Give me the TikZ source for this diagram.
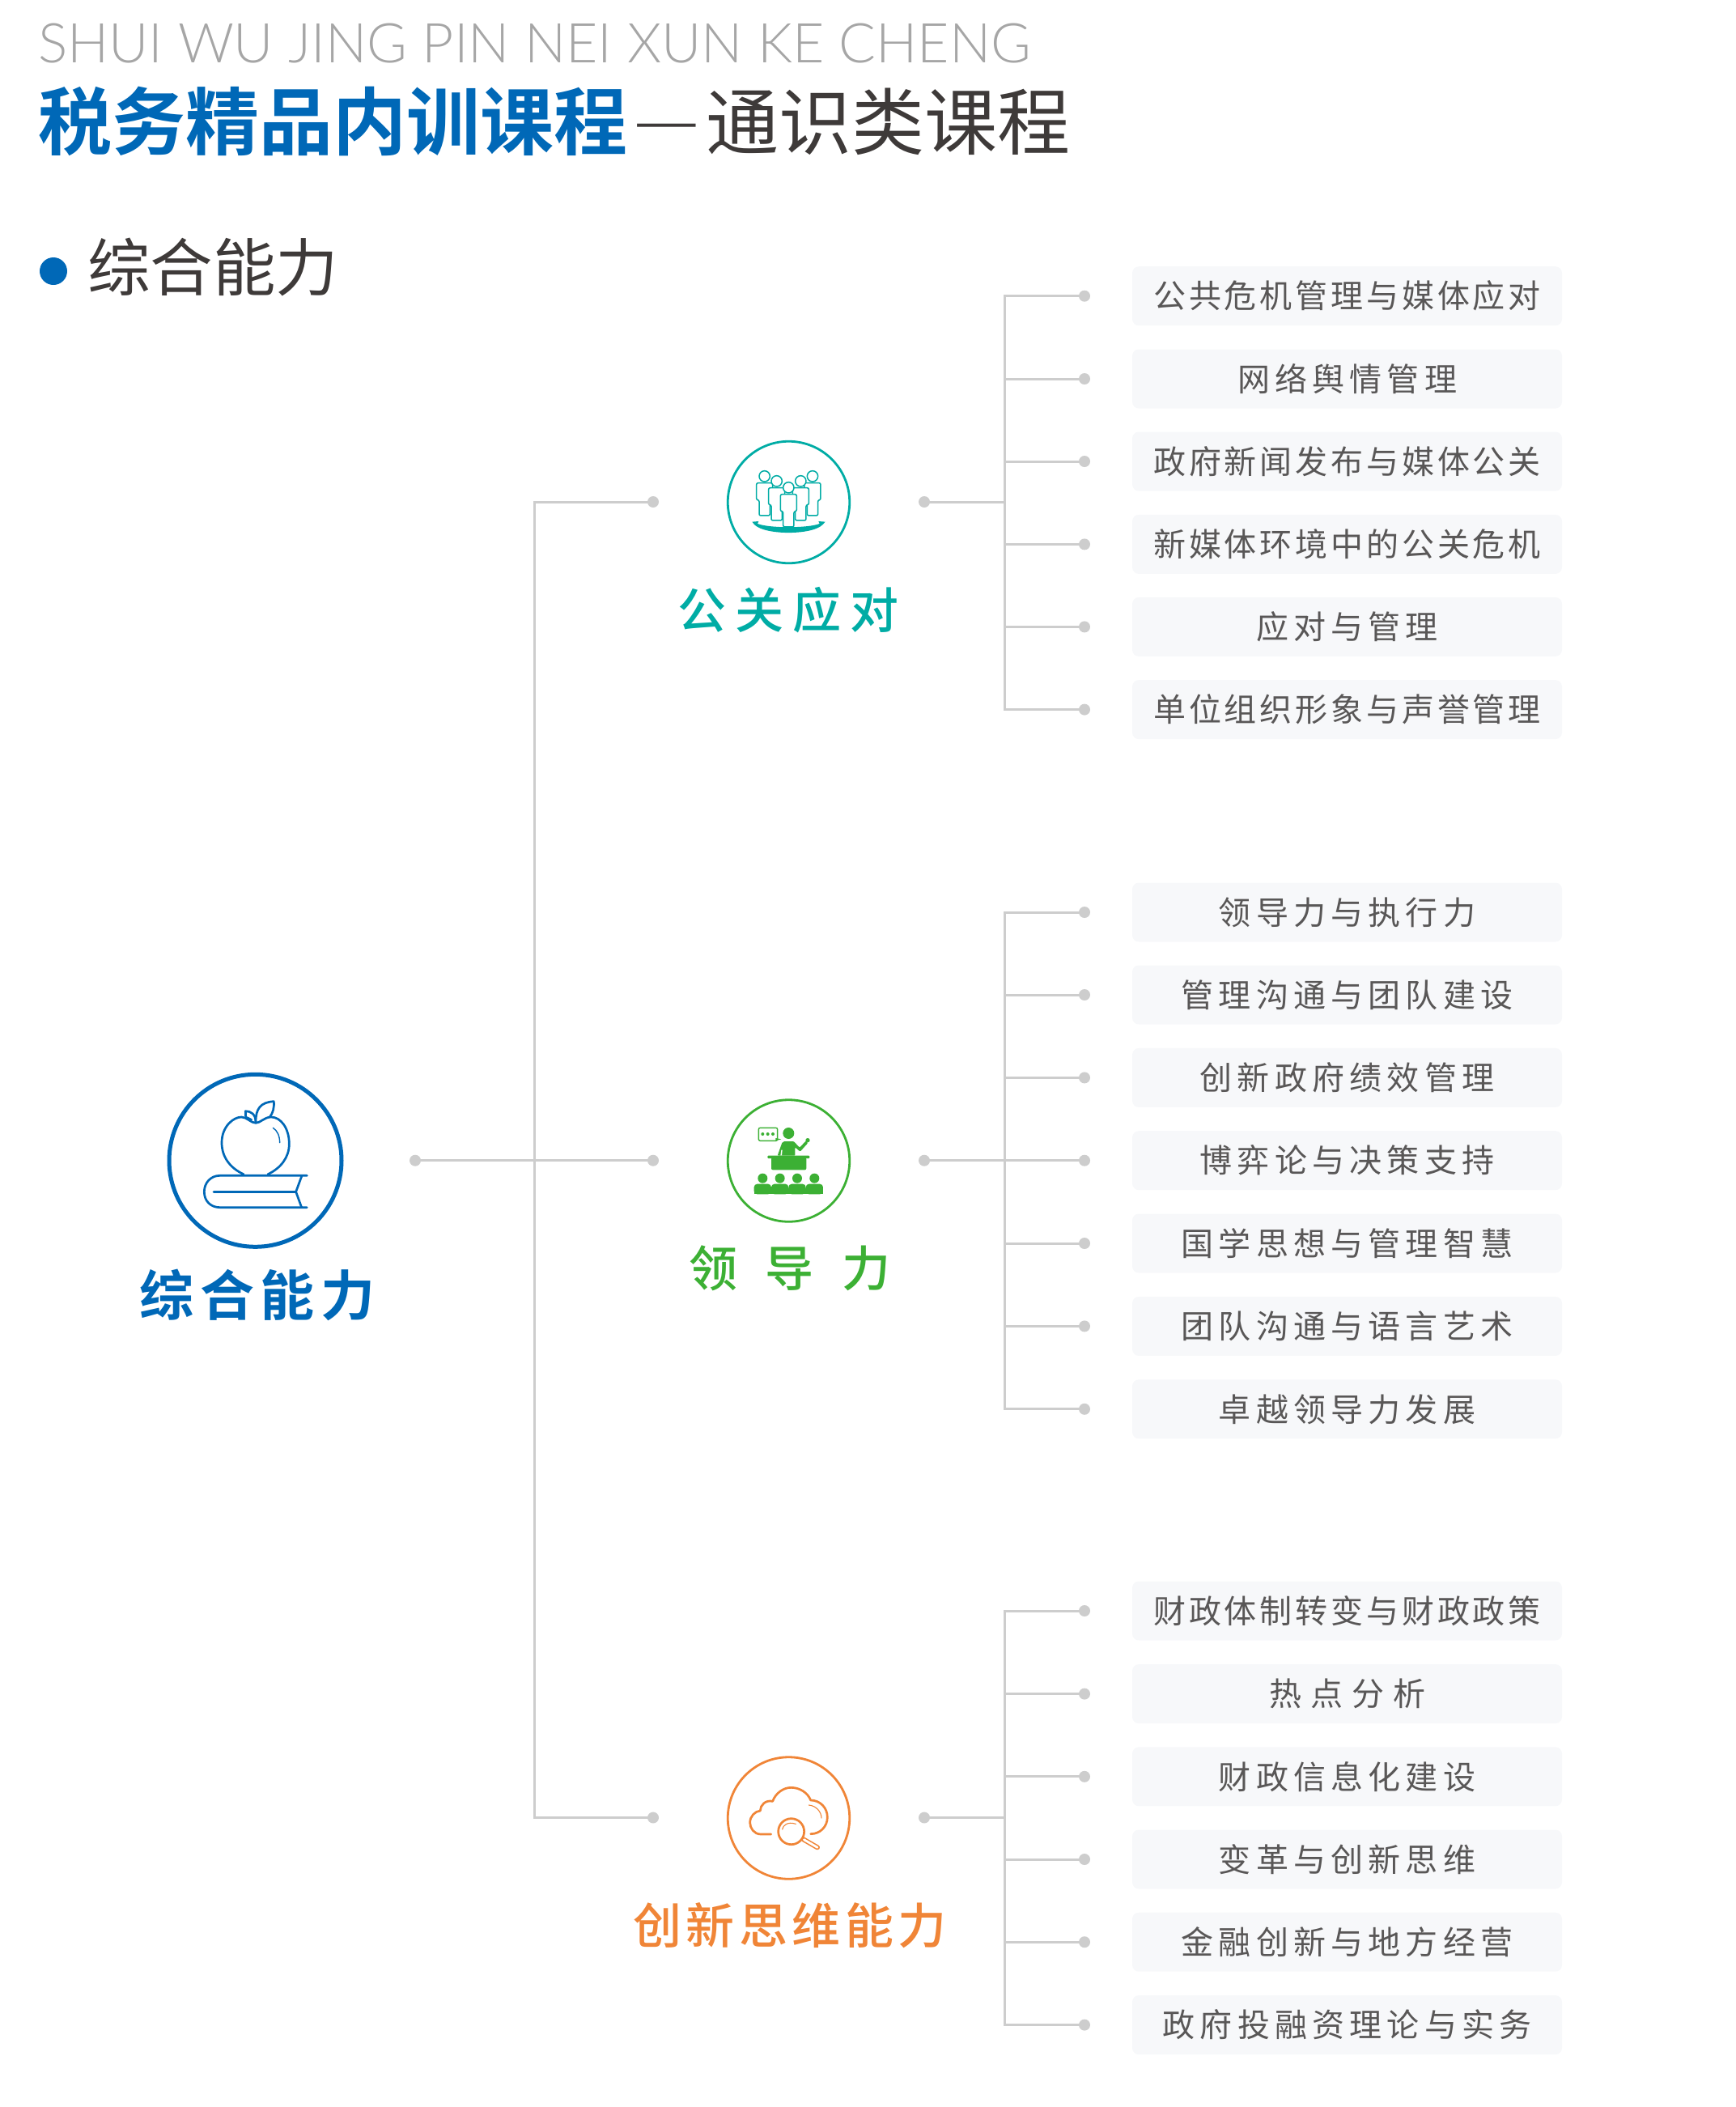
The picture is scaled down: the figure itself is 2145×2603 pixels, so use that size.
\documentclass[tikz,border=0pt]{standalone}
\usepackage{fontspec}
\setmainfont{Lato Light}
\newfontfamily\cjk{Noto Sans CJK SC}
\newfontfamily\cjkl{Noto Sans CJK SC Light}
\newfontfamily\cjkb{Noto Sans CJK SC Bold}
\newfontfamily\cjkm{Noto Sans CJK SC Medium}
\definecolor{ablue}{HTML}{0068B7}
\definecolor{ateal}{HTML}{00ACA5}
\definecolor{agreen}{HTML}{3CB034}
\definecolor{aorange}{HTML}{F08537}
\definecolor{aline}{HTML}{CDCDCD}
\definecolor{abox}{HTML}{F7F8FA}
\definecolor{atext}{HTML}{595757}
\definecolor{adark}{HTML}{3E3A39}
\tikzset{
  conn/.style={draw=aline,line width=3pt},
  dotn/.style={circle,fill=aline,minimum size=14pt,inner sep=0pt,outer sep=0pt},
  itemb/.style={rounded corners=8pt,fill=abox,minimum width=531pt,minimum height=73pt,inner sep=0pt,text=atext,font=\fontsize{40}{48}\selectfont\cjk,anchor=center},
  ring/.style={circle,draw=#1,line width=2.8pt,fill=white,minimum size=150.5pt,inner sep=0pt},
  zoomed/.style={x=0.3333pt,y=-0.3333pt},
  lab/.style={inner sep=0pt,anchor=center},
}
\newcommand\entry[5]{% dot-name, box-name, y, letterspace, text
  \node[dotn] (#1) at (1340,#3) {};
  \node[itemb] (#2) at (1664.5,#3) {\raisebox{-1pt}{\addfontfeature{LetterSpace=#4}#5}};
}
\newcommand\personicon[2]{%
  \draw[fill=white,rounded corners=2pt] (#1-30,#2+25) -- (#1-30,#2+88) -- (#1-20,#2+88) -- (#1-20,#2+146) -- (#1+20,#2+146) -- (#1+20,#2+88) -- (#1+30,#2+88) -- (#1+30,#2+25) -- cycle;
  \draw[fill=white] (#1,#2) circle[radius=20];
}
\begin{document}
\begin{tikzpicture}[x=1pt,y=-1pt]
\useasboundingbox (0,0) rectangle (2145,2603);
% header
\node[lab,anchor=base west,text=gray!70,font=\fontsize{67.8}{80}\selectfont] (en) at (47,77) {SHUI WU JING PIN NEI XUN KE CHENG};
\node[lab,anchor=base west,font=\fontsize{91}{100}\selectfont] (title) at (47,184.5) {\cjkb\textcolor{ablue}{税务精品内训课程}\cjk\hspace{8pt}\textcolor{adark}{\raisebox{4pt}{\cjkl —}\hspace{9pt}\fontsize{90}{100}\selectfont 通识类课程}};
\node[circle,fill=ablue,minimum size=34pt,inner sep=0pt] (bullet) at (66,335) {};
\node[lab,anchor=west,text=adark,font=\fontsize{77.5}{85}\selectfont\cjk] (sec) at (108,330) {综合能力};
% root
\node[circle,draw=ablue,line width=5pt,fill=white,minimum size=213pt,inner sep=0pt] (rootc) at (315.5,1433.8) {};
\node[lab,text=ablue,font=\fontsize{67}{76}\selectfont\cjkb] (rootl) at (318,1600) {\addfontfeature{LetterSpace=11.5}综合能力};
% level 2
\node[ring=ateal] (c1) at (974.5,620.5) {};
\node[ring=agreen] (c2) at (974.5,1434) {};
\node[ring=aorange] (c3) at (974.5,2246) {};
\node[lab,text=ateal,font=\fontsize{60}{70}\selectfont\cjkm] (l1) at (974,754) {\addfontfeature{LetterSpace=18}公关应对};
\node[lab,text=agreen,font=\fontsize{60}{70}\selectfont\cjkm] (l2) at (976,1567) {\addfontfeature{LetterSpace=58}领导力};
\node[lab,text=aorange,font=\fontsize{60}{70}\selectfont\cjkm] (l3) at (976,2379) {\addfontfeature{LetterSpace=9}创新思维能力};
% dots
\node[dotn] (rootd) at (513,1433.7) {};
\node[dotn] (m1) at (807,620) {};
\node[dotn] (m2) at (807,1433.7) {};
\node[dotn] (m3) at (807,2245.5) {};
\node[dotn] (r1) at (1142,620) {};
\node[dotn] (r2) at (1142,1433.7) {};
\node[dotn] (r3) at (1142,2245.5) {};
\coordinate (busmain) at (660.7,1433.7);
\coordinate (bus1) at (1241,620);
\coordinate (bus2) at (1241,1433.7);
\coordinate (bus3) at (1241,2245.5);
% group 1
\entry{a1}{ab1}{365.7}{9.6}{公共危机管理与媒体应对}
\entry{a2}{ab2}{468}{15.5}{网络舆情管理}
\entry{a3}{ab3}{570}{9.6}{政府新闻发布与媒体公关}
\entry{a4}{ab4}{672.4}{9.6}{新媒体环境中的公关危机}
\entry{a5}{ab5}{774.4}{15.5}{应对与管理}
\entry{a6}{ab6}{876.6}{9.6}{单位组织形象与声誉管理}
% group 2
\entry{b1}{bb1}{1127}{15.5}{领导力与执行力}
\entry{b2}{bb2}{1229}{15.5}{管理沟通与团队建设}
\entry{b3}{bb3}{1331.4}{15.5}{创新政府绩效管理}
\entry{b4}{bb4}{1433.7}{15.5}{博弈论与决策支持}
\entry{b5}{bb5}{1536}{15.5}{国学思想与管理智慧}
\entry{b6}{bb6}{1638.4}{15.5}{团队沟通与语言艺术}
\entry{b7}{bb7}{1740.8}{15.5}{卓越领导力发展}
% group 3
\entry{d1}{db1}{1990}{9.6}{财政体制转变与财政政策}
\entry{d2}{db2}{2092.6}{27.5}{热点分析}
\entry{d3}{db3}{2194.8}{15.5}{财政信息化建设}
\entry{d4}{db4}{2297}{15.5}{变革与创新思维}
\entry{d5}{db5}{2399.2}{15.5}{金融创新与地方经营}
\entry{d6}{db6}{2501.6}{15.5}{政府投融资理论与实务}
% connectors
\draw[conn] (rootd.center) -- (m2.center);
\draw[conn] (m1.center) -| (busmain) |- (m3.center);
\draw[conn] (r1.center) -- (bus1);
\draw[conn] (r2.center) -- (bus2);
\draw[conn] (r3.center) -- (bus3);
\foreach \n in {a1,a2,a3,a4,a5,a6} \draw[conn] (bus1) |- (\n.center);
\foreach \n in {b1,b2,b3,b4,b5,b6,b7} \draw[conn] (bus2) |- (\n.center);
\foreach \n in {d1,d2,d3,d4,d5,d6} \draw[conn] (bus3) |- (\n.center);
% teal icon
\begin{scope}[shift={(860,520)},zoomed,draw=ateal,line width=1.5pt,line join=round]
\personicon{254}{205}
\personicon{432}{205}
\personicon{299}{223}
\personicon{388}{223}
\personicon{343}{247}
\fill[ateal] (208,374) -- (232,372) -- (228,381) .. controls (270,398) and (416,398) .. (458,381) -- (454,372) -- (479,374) .. controls (470,385) and (462,392) .. (450,397) .. controls (400,420) and (286,420) .. (236,397) .. controls (224,392) and (216,385) .. (208,374) -- cycle;
\end{scope}
% green icon
\begin{scope}[shift={(860,1330)},zoomed]
\draw[agreen,line width=1.4pt,rounded corners=2pt] (232,190) rectangle (302,238);
\fill[agreen] (295,228) -- (316,232) -- (295,238) -- cycle;
\fill[agreen] (247,213) circle[radius=6] (266,213) circle[radius=6] (285,213) circle[radius=6];
\fill[agreen] (343,210) circle[radius=21];
\fill[agreen,rounded corners=1pt] (302,293) -- (318,248) .. controls (322,240) and (330,240) .. (340,240) -- (362,240) -- (384,263) -- (408,238) -- (415,246) -- (386,278) -- (367,262) -- (367,293) -- cycle;
\fill[agreen] (414,236) circle[radius=8];
\fill[white] (316,272) -- (320,272) -- (318,293) -- (313,293) -- cycle;
\fill[agreen,rounded corners=1pt] (265,293) rectangle (421,303);
\fill[agreen,rounded corners=2pt] (279,300) rectangle (409,346);
\foreach \h in {247,311,375,439}{
  \fill[agreen] (\h,377) circle[radius=18];
  \fill[agreen,rounded corners=4pt] (\h-32,436) -- (\h-32,398) -- (\h+32,398) -- (\h+32,436) -- cycle;
  \fill[agreen] (\h-32,415) rectangle (\h+32,436);
}
\end{scope}
% orange icon
\begin{scope}[shift={(860,2140)},zoomed,draw=aorange,line width=2.7pt,line cap=round,line join=round]
\draw (278,378) -- (240,378) .. controls (215,378) and (200,355) .. (200,335) .. controls (200,312) and (218,293) .. (238,291) .. controls (238,270) and (258,250) .. (284,256) .. controls (295,225) and (325,205) .. (352,205) .. controls (385,205) and (415,225) .. (425,252) .. controls (460,252) and (487,280) .. (487,315) .. controls (487,350) and (460,377) .. (425,377);
\draw[line width=1.1pt] (418,270) .. controls (445,272) and (465,295) .. (465,318);
\draw[line width=6pt] (398,397) -- (450,427);
\draw[white,line width=2.8pt] (400,398) -- (450,427);
\draw[fill=white] (353,368) circle[radius=48];
\draw[line width=1.1pt] (320,360) .. controls (322,345) and (340,330) .. (370,340);
\end{scope}
% blue icon
\begin{scope}[shift={(190,1300)},zoomed,draw=ablue,line width=2.7pt,line cap=round,line join=round]
\draw (333,452) .. controls (285,430) and (252,390) .. (252,335) .. controls (252,275) and (295,240) .. (325,240) .. controls (345,240) and (360,262) .. (378,262) .. controls (395,262) and (410,240) .. (435,240) .. controls (470,240) and (502,280) .. (502,340) .. controls (502,390) and (470,430) .. (423,452);
\draw[line width=1.4pt] (442,280) .. controls (458,290) and (467,310) .. (467,335);
\draw (362,250) -- (341,240) -- (340,218) .. controls (360,218) and (378,230) .. (378,258);
\draw (378,258) .. controls (378,210) and (395,185) .. (445,182) .. controls (447,205) and (442,225) .. (430,240);
\draw (568,457) -- (245,457) .. controls (210,457) and (187,485) .. (187,517) .. controls (187,550) and (210,575) .. (245,575) -- (568,575);
\draw (222,517) -- (525,517);
\draw (548,460) -- (527,517) -- (548,575);
\end{scope}
\end{tikzpicture}
\end{document}
